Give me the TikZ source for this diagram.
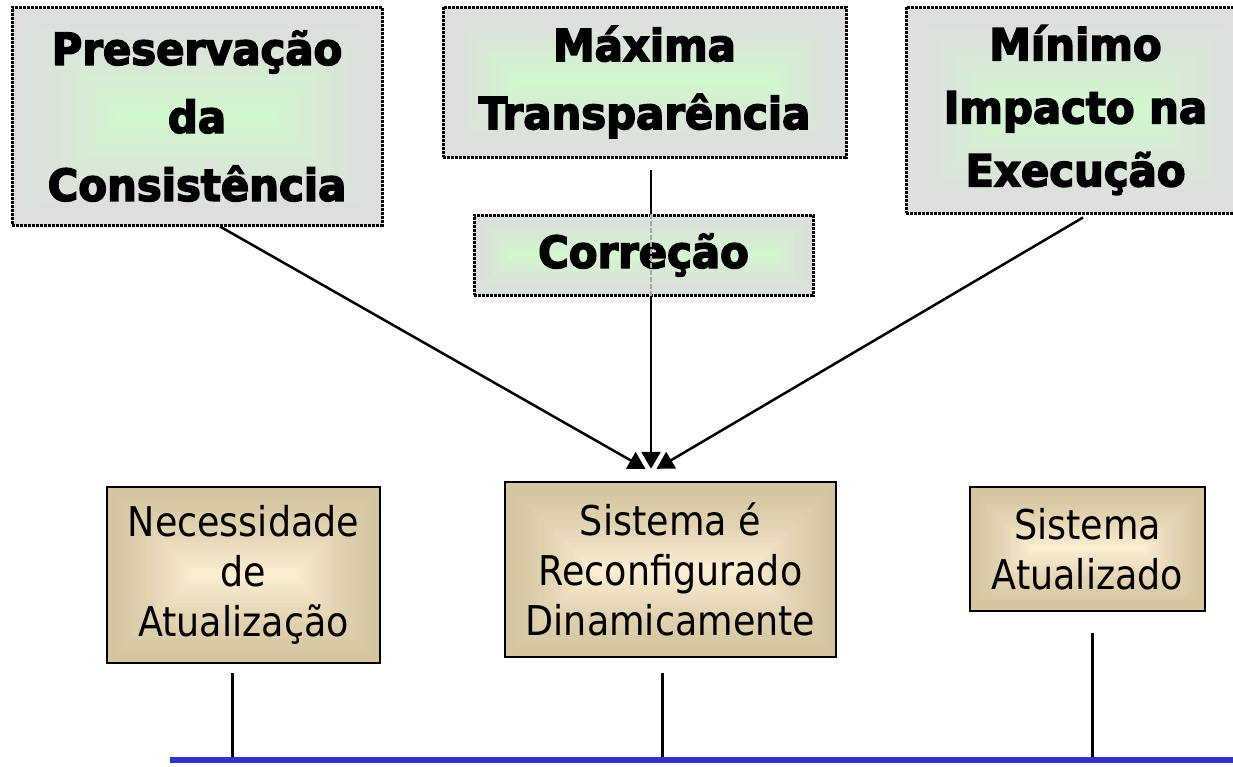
\documentclass[tikz,border=0pt]{standalone}
\usepackage{fontspec}
\setmainfont{DejaVu Sans}
\newfontfamily\narrowfont[FakeStretch=0.89]{DejaVu Sans}
\newfontfamily\topfont[FakeStretch=0.95,FakeBold=3.5]{DejaVu Sans Bold}
\usetikzlibrary{arrows.meta,calc}
\definecolor{gE}{RGB}{221,222,221}
\definecolor{gC}{RGB}{210,248,206}
\definecolor{tE}{RGB}{212,198,160}
\definecolor{tC}{RGB}{251,237,210}
\definecolor{blueline}{RGB}{51,51,204}
\tikzset{
 rectgrad/.style n args={2}{path picture={
   \foreach \k in {0,...,24}{
     \pgfmathtruncatemacro\pc{100*(\k/24)^1.4}
     \fill[#2!\pc!#1] let \p1=(path picture bounding box.south west), \p2=(path picture bounding box.north east), \n1={abs(\y2-\y1)/2*\k/25} in (\x1+\n1,\y1+\n1) rectangle (\x2-\n1,\y2-\n1);
   }}},
 greenbox/.style={rectangle, draw=black, line width=3pt, dash pattern=on 3pt off 1pt, rectgrad={gE}{gC}, inner sep=0pt, align=center, font=\topfont\fontsize{44}{68}\selectfont},
 tanbox/.style={rectangle, draw=black, line width=2.4pt, rectgrad={tE}{tC}, inner sep=0pt, align=center, font=\narrowfont\fontsize{41}{50}\selectfont},
 conn/.style={line width=2.5pt, -{Triangle[length=17pt,width=19pt]}},
 stem/.style={line width=3pt}
}
\begin{document}
\begin{tikzpicture}[x=1pt,y=-1pt]
\useasboundingbox (0,0) rectangle (1233,766);
\fill[white] (0,0) rectangle (1233,766);
% top boxes
\node[greenbox, minimum width=370pt, minimum height=218pt] (pres) at (197,116) {Preservação\\da\\Consistência};
\node[greenbox, minimum width=403pt, minimum height=150pt] (maxi) at (644.5,82) {Máxima\\Transparência};
\node[greenbox, minimum width=339pt, minimum height=206pt, font=\topfont\fontsize{44}{63}\selectfont] (mini) at (1075.5,110) {Mínimo\\Impacto na\\Execução};
% bottom boxes
\node[tanbox, minimum width=273pt, minimum height=176pt] (nec) at (243.5,575) {Necessidade\\de\\Atualização};
\node[tanbox, minimum width=331pt, minimum height=175pt] (sis) at (670.5,569.5) {Sistema é\\Reconfigurado\\Dinamicamente};
\node[tanbox, minimum width=235pt, minimum height=124pt] (atu) at (1087.5,549) {Sistema\\Atualizado};
% arrow tips
\coordinate (tipL) at ($(sis.north)+(-25,-12)$);
\coordinate (tipM) at ($(sis.north)+(-19.5,-12)$);
\coordinate (tipR) at ($(sis.north)+(-14,-12)$);
\draw[conn] ($(pres.south)+(23,0)$) -- (tipL);
\draw[conn] ($(mini.south)+(7.5,3)$) -- (tipR);
\draw[conn] ($(maxi.south)+(6.5,11)$) -- (tipM);
% Correcao box over the middle arrow
\node[greenbox, minimum width=339pt, minimum height=80pt] (corr) at (643.5,255) {Correção};
\draw[gray!70, line width=2pt, dash pattern=on 5pt off 2pt] (corr.north -| tipM) -- (corr.south -| tipM);
% timeline
\coordinate (bl) at (170,760);
\coordinate (br) at (1233,760);
\coordinate (s1) at ($(nec.south)+(-11.5,9)$);
\coordinate (s2) at ($(sis.south)+(-8.5,15)$);
\coordinate (s3) at ($(atu.south)+(4.5,21)$);
\draw[stem] (s1) -- (s1 |- bl);
\draw[stem] (s2) -- (s2 |- bl);
\draw[stem] (s3) -- (s3 |- bl);
\draw[blueline, line width=6pt] (bl) -- (br);
\end{tikzpicture}
\end{document}
